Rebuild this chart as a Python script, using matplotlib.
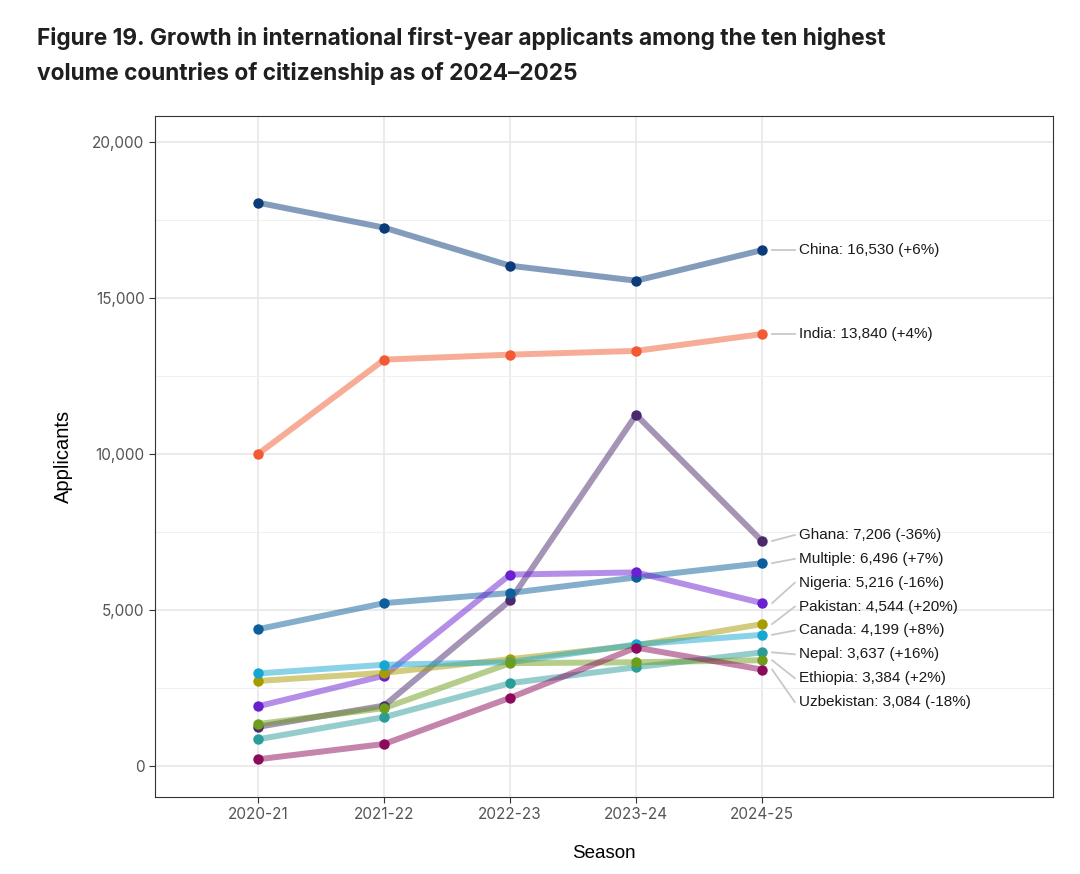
import numpy as np
import matplotlib.pyplot as plt
from matplotlib.ticker import FuncFormatter, MultipleLocator

plt.rcParams['font.family'] = ['Liberation Sans', 'DejaVu Sans']

seasons = ['2020-21', '2021-22', '2022-23', '2023-24', '2024-25']
countries = ['China', 'India', 'Ghana', 'Multiple', 'Nigeria', 'Pakistan',
             'Canada', 'Nepal', 'Ethiopia', 'Uzbekistan']

china = [18050, 17250, 16030, 15550, 16530]
india = [10000, 13020, 13180, 13300, 13840]
ghana = [1250, 1930, 5300, 11250, 7206]
multiple = [4380, 5215, 5540, 6040, 6496]
nigeria = [1910, 2890, 6130, 6200, 5216]
pakistan = [2720, 2980, 3420, 3860, 4544]
canada = [2960, 3240, 3320, 3890, 4199]
nepal = [850, 1560, 2650, 3160, 3637]
ethiopia = [1340, 1850, 3290, 3320, 3384]
uzbekistan = [210, 700, 2180, 3790, 3084]
pct_change = ['+6%', '+4%', '-36%', '+7%', '-16%', '+20%', '+8%', '+16%', '+2%', '-18%']

series = [china, india, ghana, multiple, nigeria, pakistan, canada, nepal, ethiopia, uzbekistan]
colors = ['#0b3b78', '#f15a32', '#4a2a6c', '#0d5e9a', '#6a1fd1', '#a89b00',
          '#14a7d2', '#2a9d9b', '#6e9c1b', '#8b0a5b']

fig = plt.figure(figsize=(10.8, 8.74), dpi=100)
ax = fig.add_axes([0.1435, 0.0881, 0.8315, 0.7792])

x = np.arange(len(seasons))
for vals, c in zip(series, colors):
    ax.plot(x, vals, color=c, lw=4.3, alpha=0.5, solid_capstyle='round', zorder=2)
    ax.plot(x, vals, 'o', color=c, ms=7.5, mec='none', zorder=3)

# labels: China and India alone, the rest spread evenly around their mean
last = [s[-1] for s in series]
label_y = list(last)
cluster = list(range(2, len(series)))
gap = 765
mean = np.mean([last[i] for i in cluster])
n = len(cluster)
for k, i in enumerate(cluster):
    label_y[i] = mean + ((n - 1) / 2 - k) * gap

lx = 4.29
for i, name in enumerate(countries):
    ax.plot([x[-1] + 0.08, lx - 0.03], [last[i], label_y[i]], color='#c8c8c8', lw=1.3, zorder=1)
    ax.text(lx, label_y[i], f"{name}: {last[i]:,} ({pct_change[i]})", fontsize=11,
            va='center', ha='left', color='#1a1a1a')

ax.set_xlim(-0.82, 6.31)
ax.set_ylim(-1000, 20830)
ax.set_xticks(x)
ax.set_xticklabels(seasons)
ax.yaxis.set_major_locator(MultipleLocator(5000))
ax.yaxis.set_minor_locator(MultipleLocator(2500))
ax.yaxis.set_major_formatter(FuncFormatter(lambda v, p: f"{int(v):,}"))
ax.grid(which='major', color='#e6e6e6', lw=1.1)
ax.grid(which='minor', axis='y', color='#f0f0f0', lw=0.8)
ax.set_axisbelow(True)
ax.tick_params(axis='both', which='major', labelsize=11, labelcolor='#555555',
               color='#333333', length=4, width=0.8)
ax.tick_params(axis='y', which='minor', length=0)
for lab in ax.get_xticklabels() + ax.get_yticklabels():
    lab.set_family(['Inter', 'DejaVu Sans'])
for sp in ax.spines.values():
    sp.set_color('#333333')
    sp.set_linewidth(0.8)

ax.set_ylabel('Applicants', fontsize=14.5, labelpad=14)
ax.set_xlabel('Season', fontsize=13.5, labelpad=16)

fig.text(0.034, 0.956, 'Figure 19. Growth in international first-year applicants among the ten highest',
         fontsize=16.3, fontweight='bold', family=['Inter', 'DejaVu Sans'], color='#1f1f1f', va='center')
fig.text(0.034, 0.916, 'volume countries of citizenship as of 2024\u20132025',
         fontsize=16.3, fontweight='bold', family=['Inter', 'DejaVu Sans'], color='#1f1f1f', va='center')

fig.savefig('out.png', dpi=100, facecolor='white')
